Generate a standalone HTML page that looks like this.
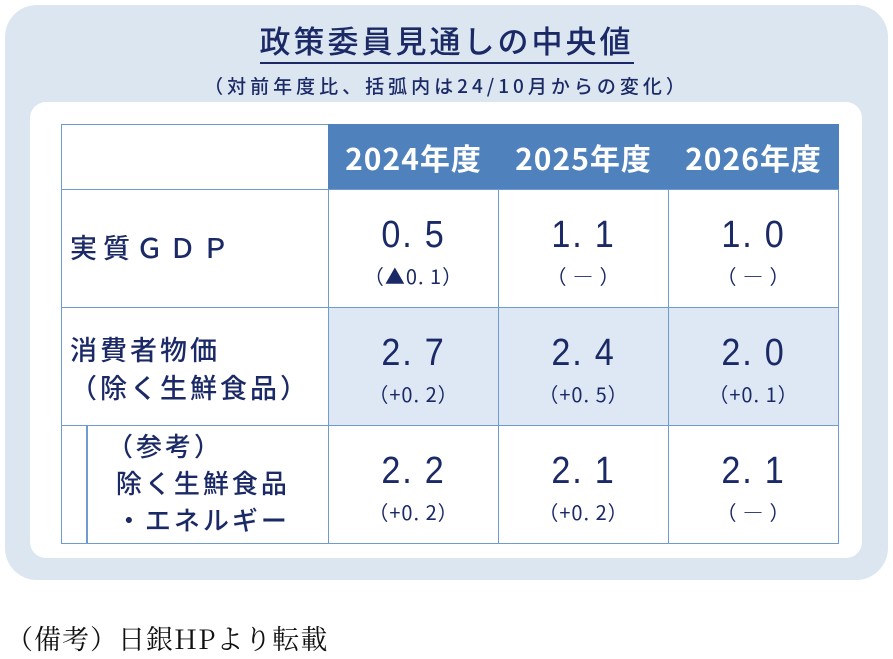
<!DOCTYPE html>
<html><head><meta charset="utf-8"><style>
body{margin:0;width:893px;height:659px;background:#fff;position:relative;overflow:hidden;font-family:"Liberation Sans","Noto Sans CJK JP",sans-serif;color:#1b2a66}
.outer{position:absolute;left:5px;top:5px;width:883px;height:575px;background:#dce6f0;border-radius:32px}
.inner{position:absolute;left:30px;top:102px;width:832px;height:456px;background:#fff;border-radius:16px}
.title{position:absolute;left:0;width:893px;top:17px;text-align:center;font-size:31px;letter-spacing:3px;font-family:"Noto Sans CJK JP",sans-serif;font-weight:500}
.title span{border-bottom:2px solid #1b2a66;padding-bottom:0px}
.sub{position:absolute;left:0;width:893px;top:72px;text-align:center;font-size:19px;letter-spacing:4px;font-family:"Noto Sans CJK JP",sans-serif;font-weight:500}
.c{position:absolute;box-sizing:border-box;border:1.5px solid #6f9bcf}
.h{background:#4f81bd;color:#fff;font-size:30px;font-weight:bold;display:flex;align-items:center;justify-content:center;border-color:#4f81bd;font-family:"Noto Sans CJK JP",sans-serif;letter-spacing:1px}
.v{text-align:center}
.v .a{font-size:38px;margin-top:24px;line-height:42px;letter-spacing:2px;transform:scaleX(0.9)}
.v .b{font-size:20px;margin-top:5px;font-family:"Noto Sans CJK JP",sans-serif;letter-spacing:1px}
.lab{font-size:27px;padding-left:8px;line-height:38px;font-family:"Noto Sans CJK JP",sans-serif;font-weight:500;letter-spacing:3px}
.blue{background:#dde8f4}
.note{position:absolute;left:6px;top:618px;font-family:"Noto Serif CJK SC",serif;font-size:27px;color:#111;letter-spacing:1px}
</style></head><body>
<div class="outer"></div>
<div class="title"><span>政策委員見通しの中央値</span></div>
<div class="sub">（対前年度比、括弧内は24/10月からの変化）</div>
<div class="inner"></div>
<div class="c" style="left:61px;top:124px;width:268px;height:66px"></div>
<div class="c h" style="left:328px;top:124px;width:171px;height:66px">2024年度</div>
<div class="c h" style="left:498px;top:124px;width:171px;height:66px">2025年度</div>
<div class="c h" style="left:668px;top:124px;width:171px;height:66px">2026年度</div>

<div class="c lab" style="left:61px;top:189px;width:268px;height:119px;padding-top:38px;letter-spacing:6px">実質ＧＤＰ</div>
<div class="c v" style="left:328px;top:189px;width:171px;height:119px"><div class="a">0. 5</div><div class="b">（▲0. 1）</div></div>
<div class="c v" style="left:498px;top:189px;width:171px;height:119px"><div class="a">1. 1</div><div class="b">（ ― ）</div></div>
<div class="c v" style="left:668px;top:189px;width:171px;height:119px"><div class="a">1. 0</div><div class="b">（ ― ）</div></div>

<div class="c lab" style="left:61px;top:307px;width:268px;height:119px;padding-top:22px">消費者物価<br>（除く生鮮食品）</div>
<div class="c v blue" style="left:328px;top:307px;width:171px;height:119px"><div class="a">2. 7</div><div class="b">（+0. 2）</div></div>
<div class="c v blue" style="left:498px;top:307px;width:171px;height:119px"><div class="a">2. 4</div><div class="b">（+0. 5）</div></div>
<div class="c v blue" style="left:668px;top:307px;width:171px;height:119px"><div class="a">2. 0</div><div class="b">（+0. 1）</div></div>

<div class="c" style="left:61px;top:425px;width:27px;height:119px;border-top:none;border-right-width:1.5px"></div>
<div class="c lab" style="left:86px;top:425px;width:243px;height:119px;padding-top:1px;padding-left:20px;font-size:26px;line-height:37px">（参考）<br>&nbsp;除く生鮮食品<br>&nbsp;・エネルギー</div>
<div class="c v" style="left:328px;top:425px;width:171px;height:119px"><div class="a">2. 2</div><div class="b">（+0. 2）</div></div>
<div class="c v" style="left:498px;top:425px;width:171px;height:119px"><div class="a">2. 1</div><div class="b">（+0. 2）</div></div>
<div class="c v" style="left:668px;top:425px;width:171px;height:119px"><div class="a">2. 1</div><div class="b">（ ― ）</div></div>

<div class="note">（備考）日銀HPより転載</div>
</body></html>
